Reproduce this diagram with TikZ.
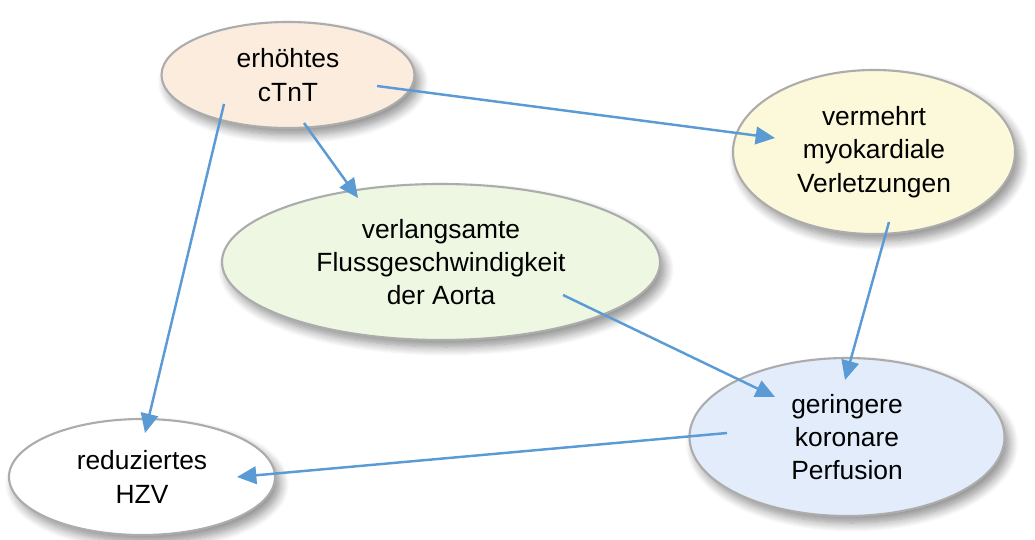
\documentclass[tikz,border=0pt]{standalone}
\usepackage{fontspec}
\setmainfont{Liberation Sans}
\usepackage{xcolor}
\usepackage{tikz}
\usetikzlibrary{shapes.geometric,positioning,calc,arrows.meta,shadows.blur}

\definecolor{peach}{RGB}{252,236,222}
\definecolor{lemon}{RGB}{251,249,217}
\definecolor{mint}{RGB}{237,247,225}
\definecolor{sky}{RGB}{226,236,251}
\definecolor{arrowblue}{RGB}{91,155,213}

\begin{document}
\begin{tikzpicture}[
        bubble/.style={ellipse, draw=gray!65, line width=1.2pt, inner sep=0pt, align=center,
            font=\fontsize{15}{19}\selectfont,
            blur shadow={shadow xshift=0.10cm, shadow yshift=-0.14cm, shadow opacity=45, shadow blur steps=10, shadow blur radius=0.18cm}},
        link/.style={draw=arrowblue, line width=1.4pt, -{Triangle[length=11pt,width=10pt]}}
    ]
        \useasboundingbox (0,0) rectangle (20.7,-10.8);

        % Ellipses
        \node[bubble, fill=peach, minimum width=5.06cm, minimum height=2.12cm] (ctnt) at (5.76,-1.50) {erhöhtes\\cTnT};
        \node[bubble, fill=lemon, minimum width=5.64cm, minimum height=3.28cm] (myo) at (17.48,-3.04) {vermehrt\\myokardiale\\Verletzungen};
        \node[bubble, fill=mint, minimum width=8.76cm, minimum height=3.12cm] (aorta) at (8.82,-5.24) {verlangsamte\\Flussgeschwindigkeit\\der Aorta};
        \node[bubble, fill=sky, minimum width=6.30cm, minimum height=3.16cm] (perf) at (16.94,-8.74) {geringere\\koronare\\Perfusion};
        \node[bubble, fill=white, minimum width=5.32cm, minimum height=2.32cm] (hzv) at (2.84,-9.54) {reduziertes\\HZV};

        % Arrow ends
        \coordinate (ctnt-r) at ($(ctnt)+(1.78,-0.22)$);
        \coordinate (ctnt-b) at ($(ctnt)+(0.32,-0.96)$);
        \coordinate (ctnt-l) at ($(ctnt)+(-1.28,-0.58)$);
        \coordinate (myo-l) at ($(myo)+(-1.98,0.28)$);
        \coordinate (myo-b) at ($(myo)+(0.30,-1.40)$);
        \coordinate (aorta-t) at ($(aorta)+(-1.66,1.28)$);
        \coordinate (aorta-r) at ($(aorta)+(2.44,-0.66)$);
        \coordinate (perf-t) at ($(perf)+(-0.04,1.14)$);
        \coordinate (perf-tl) at ($(perf)+(-1.44,0.80)$);
        \coordinate (perf-l) at ($(perf)+(-2.40,0.08)$);
        \coordinate (hzv-t) at ($(hzv)+(0.06,0.88)$);
        \coordinate (hzv-r) at ($(hzv)+(1.90,0.00)$);

        % Connections
        \draw[link] (ctnt-r) -- (myo-l);
        \draw[link] (ctnt-b) -- (aorta-t);
        \draw[link] (ctnt-l) -- (hzv-t);
        \draw[link] (myo-b) -- (perf-t);
        \draw[link] (aorta-r) -- (perf-tl);
        \draw[link] (perf-l) -- (hzv-r);
    \end{tikzpicture}
\end{document}
